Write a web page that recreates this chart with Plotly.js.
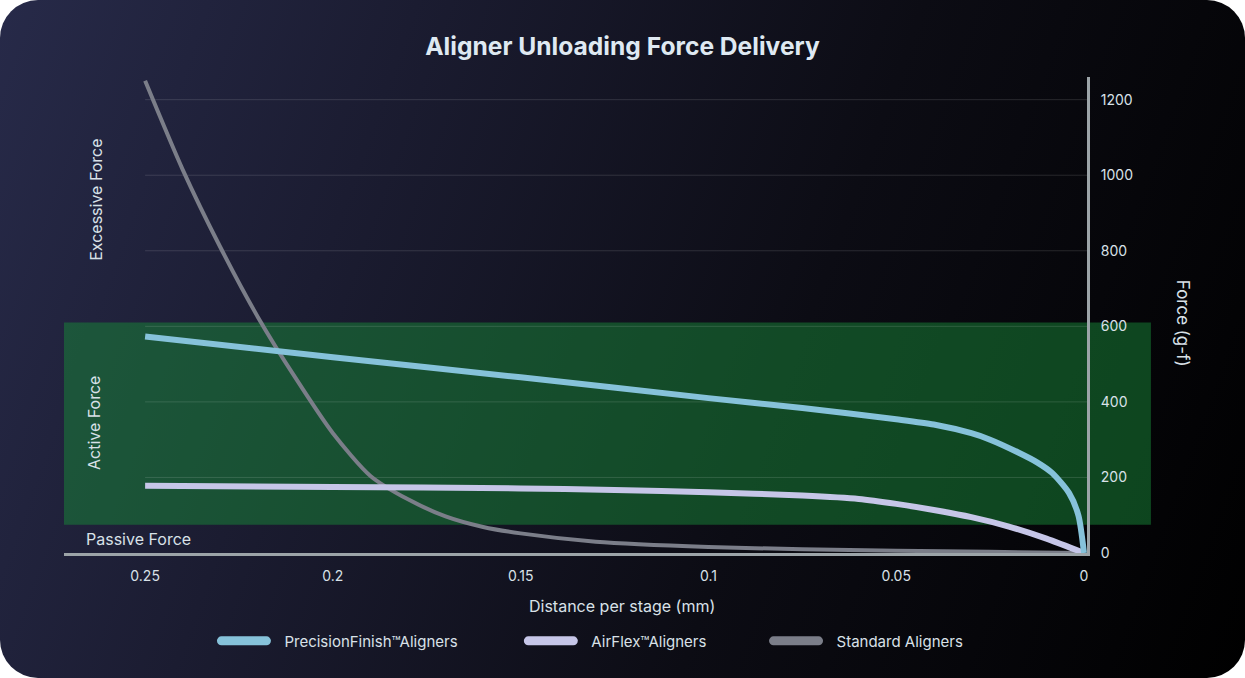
<!DOCTYPE html>
<html>
<head>
<meta charset="utf-8">
<script src="https://cdn.plot.ly/plotly-3.0.1.min.js"></script>
<style>
  html, body { margin: 0; padding: 0; background: #ffffff; }
  #card {
    width: 1245px; height: 678px; border-radius: 38px; overflow: hidden;
    background: linear-gradient(110deg, #272a49 0%, #1b1c31 28%, #0c0c14 62%, #000000 100%);
  }
  #chart { width: 1245px; height: 678px; }
  /* pill shaped legend keys, a bit shorter than the key area so the text has room */
  .legendlines path { stroke-linecap: round; stroke-width: 9px !important; stroke-dasharray: 45 200; }
</style>
</head>
<body>
<div id="card"><div id="chart"></div></div>
<script>
// distance per stage (mm) and force (g-f)
const distance_precision = [0.25, 0.2, 0.15, 0.1, 0.075, 0.05, 0.04, 0.03, 0.025, 0.0175, 0.0125, 0.0085, 0.004, 0.0015, 0];
const force_precision    = [573, 518, 465, 410, 384, 354, 340, 317, 300, 266, 240, 212, 159, 100, 0];

const distance_airflex = [0.25, 0.2, 0.15, 0.125, 0.1, 0.075, 0.06, 0.05, 0.04, 0.03, 0.02, 0.01, 0];
const force_airflex    = [178, 175, 171, 167, 161, 152, 143, 130, 114, 95, 70, 38, 0];

const distance_standard = [0.25, 0.24, 0.23, 0.22, 0.21, 0.2, 0.19, 0.18, 0.17, 0.16, 0.15, 0.13, 0.1, 0.075, 0.05, 0.025, 0];
const force_standard    = [1250, 1015, 810, 625, 464, 317, 204, 142, 97, 69, 52, 30, 16, 10, 6, 3, 0];

const x_ticks = [0.25, 0.2, 0.15, 0.1, 0.05, 0];
const x_tick_labels = ["0.25", "0.2", "0.15", "0.1", "0.05", "0"];
const y_ticks = [0, 200, 400, 600, 800, 1000, 1200];

const series_names = ["PrecisionFinish™Aligners", "AirFlex™Aligners", "Standard Aligners"];
const series_colors = ["#86c2da", "#c6c6e8", "#7b7e89"];

// force zones (g-f)
const active_zone = [75, 610];

const FONT = "Inter, 'Noto Sans', sans-serif";
const TEXT = "#d9e1e8";

// grey goes first so the coloured curves sit on top of it,
// each series gets its own legend so the keys can sit where the original has them
var data = [
    {x: distance_standard, y: force_standard, name: series_names[2], legend: 'legend3',
     type: 'scatter', mode: 'lines', line: {color: series_colors[2], width: 4, shape: 'spline', smoothing: 0.7}},
    {x: distance_airflex, y: force_airflex, name: series_names[1], legend: 'legend2',
     type: 'scatter', mode: 'lines', line: {color: series_colors[1], width: 6, shape: 'spline', smoothing: 0.7}},
    {x: distance_precision, y: force_precision, name: series_names[0], legend: 'legend',
     type: 'scatter', mode: 'lines', line: {color: series_colors[0], width: 6, shape: 'spline', smoothing: 0.7}},
];

// gridlines only run from 0.25 to the right axis
var shapes = [
    {type: 'rect', layer: 'below', xref: 'paper', yref: 'y', x0: 0, x1: 1.0625,
     y0: active_zone[0], y1: active_zone[1], fillcolor: 'rgba(23,135,56,0.5)', line: {width: 0}},
];
y_ticks.slice(1).forEach(v => {
    shapes.push({type: 'line', layer: 'below', xref: 'x', yref: 'y', x0: 0.25, x1: -0.0008,
        y0: v, y1: v, line: {color: 'rgba(255,255,255,0.13)', width: 1}});
});

function legendAt(x){
    return {orientation: 'h', x: x, xanchor: 'left', y: -0.185, yanchor: 'middle',
        itemwidth: 58, font: {size: 15, color: TEXT}, bgcolor: 'rgba(0,0,0,0)'};
}

const layout = {
    width: 1245, height: 678,
    margin: {l: 64, r: 158, t: 77, b: 125},
    paper_bgcolor: 'rgba(0,0,0,0)',
    plot_bgcolor: 'rgba(0,0,0,0)',
    font: {family: FONT, color: TEXT, size: 14},
    title: {text: "<b>Aligner Unloading Force Delivery</b>", x: 0.5, xref: 'container',
        y: 0.932, yref: 'container', yanchor: 'middle',
        font: {family: FONT, size: 24.6, color: '#dfe9f2'}},
    xaxis: {
        range: [0.2716, -0.0008], showgrid: false, zeroline: false,
        tickvals: x_ticks, ticktext: x_tick_labels, ticks: '', ticklabelstandoff: 8,
        showline: true, linecolor: '#9ca4a8', linewidth: 3,
        tickfont: {size: 14, color: TEXT},
    },
    yaxis: {
        range: [0, 1260], side: 'right', showgrid: false, zeroline: false,
        tickvals: y_ticks, ticks: '', ticklabelstandoff: 8,
        showline: true, linecolor: '#9ca4a8', linewidth: 3,
        tickfont: {size: 14, color: TEXT},
    },
    shapes: shapes,
    annotations: [
        {text: "Excessive Force", xref: 'paper', yref: 'y', x: 0.0313, y: 935, textangle: -90,
         xanchor: 'center', showarrow: false, font: {size: 16, color: TEXT}},
        {text: "Active Force", xref: 'paper', yref: 'y', x: 0.0293, y: 344, textangle: -90,
         xanchor: 'center', showarrow: false, font: {size: 16, color: TEXT}},
        {text: "Passive Force", xref: 'paper', yref: 'y', x: 0.02, y: 37, xanchor: 'left',
         showarrow: false, font: {size: 16, color: TEXT}},
        {text: "Force (g-f)", xref: 'paper', yref: 'y', x: 1.094, y: 609, textangle: 90,
         xanchor: 'center', showarrow: false, font: {size: 17, color: TEXT}},
        {text: "Distance per stage (mm)", xref: 'paper', yref: 'paper', x: 0.545, y: -0.111,
         yanchor: 'middle', showarrow: false, font: {size: 16, color: TEXT}},
    ],
    showlegend: true,
    legend: legendAt(0.149),
    legend2: legendAt(0.449),
    legend3: legendAt(0.6887),
};

Plotly.newPlot('chart', data, layout, {displayModeBar: false, staticPlot: true});
</script>
</body>
</html>
